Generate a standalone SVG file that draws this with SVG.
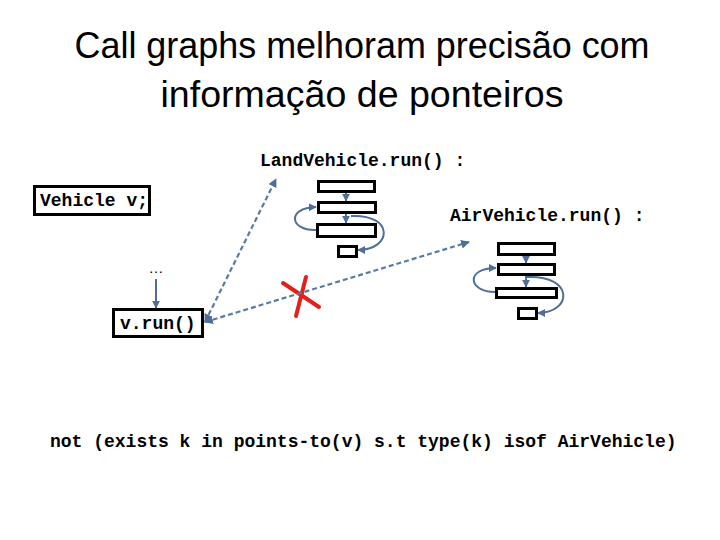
<svg xmlns="http://www.w3.org/2000/svg" width="720" height="540" viewBox="0 0 720 540">
<defs>
<marker id="ah" viewBox="0 0 10 10" refX="9" refY="5" markerWidth="4" markerHeight="4" orient="auto-start-reverse" markerUnits="strokeWidth">
<path d="M0,0 L10,5 L0,10 z" fill="#4F6F96"/>
</marker>
<style>
.title{font-family:"Liberation Sans",Arial,sans-serif;font-size:36px;fill:#000;text-anchor:middle}
.code{font-family:"Liberation Mono","Courier New",monospace;font-size:18px;font-weight:bold;fill:#000}
.box{fill:#fff;stroke:#000;stroke-width:3}
.edge{fill:none;stroke:#4F6F96;stroke-width:2;marker-end:url(#ah)}
.dash{fill:none;stroke:#5A7BA0;stroke-width:2.2;stroke-dasharray:5 3;marker-end:url(#ah);marker-start:url(#ah)}
.x{stroke:#E3201B;stroke-width:4;stroke-linecap:round;fill:none}
</style>
</defs>
<rect width="720" height="540" fill="#fff"/>
<g id="title">
<text class="title" x="362" y="58" textLength="575" lengthAdjust="spacingAndGlyphs">Call graphs melhoram precisão com</text>
<text class="title" x="362" y="107" textLength="403" lengthAdjust="spacingAndGlyphs">informação de ponteiros</text>
</g>
<g id="land-label"><text class="code" x="260" y="166">LandVehicle.run() :</text></g>
<g id="air-label"><text class="code" x="450" y="221">AirVehicle.run() :</text></g>
<g id="vehicle-decl">
<rect class="box" x="34.5" y="186.5" width="115" height="28"/>
<text class="code" x="40" y="206" font-size="17.5">Vehicle v;</text>
</g>
<g id="ellipsis"><text x="156" y="273" font-family="Liberation Sans,Arial,sans-serif" font-size="15" text-anchor="middle">…</text></g>
<g id="vrun">
<rect class="box" x="113.5" y="309.5" width="89" height="27"/>
<text class="code" x="120" y="329">v.run()</text>
</g>
<g id="land-graph">
<rect class="box" x="318.5" y="181.5" width="56" height="10"/>
<rect class="box" x="318.5" y="202.5" width="57" height="10"/>
<rect class="box" x="317.5" y="224.5" width="58" height="12"/>
<rect class="box" x="338.5" y="246.5" width="18" height="10"/>
</g>
<g id="air-graph">
<rect class="box" x="498.5" y="243.5" width="56" height="11"/>
<rect class="box" x="498.5" y="264.5" width="56" height="10"/>
<rect class="box" x="496.5" y="288.5" width="60" height="9"/>
<rect class="box" x="518.5" y="308.5" width="18" height="10"/>
</g>
<g id="red-x">
<path class="x" d="M283,283 L319,307"/>
<path class="x" d="M306,277 L296,316"/>
</g>
<g id="condition"><text class="code" x="50" y="447">not (exists k in points-to(v) s.t type(k) isof AirVehicle)</text></g>
<g id="connectors">
<path class="edge" d="M156,279 L156,308"/>
<path class="edge" d="M346,193 L346,201"/>
<path class="edge" d="M346,214 L346,223"/>
<path class="edge" d="M316,230 C290,231 286,208 316,207"/>
<path class="edge" d="M351,216 C395,214 392,250 358,250"/>
<path class="edge" d="M526,256 L526,263"/>
<path class="edge" d="M526,276 L526,287"/>
<path class="edge" d="M495,292 C468,292 465,268 496,268"/>
<path class="edge" d="M527,277 C575,275 572,313 538,313"/>
<path class="dash" d="M205,322 L276,179"/>
<path class="dash" d="M205,322 L469,242"/>
</g>
</svg>
